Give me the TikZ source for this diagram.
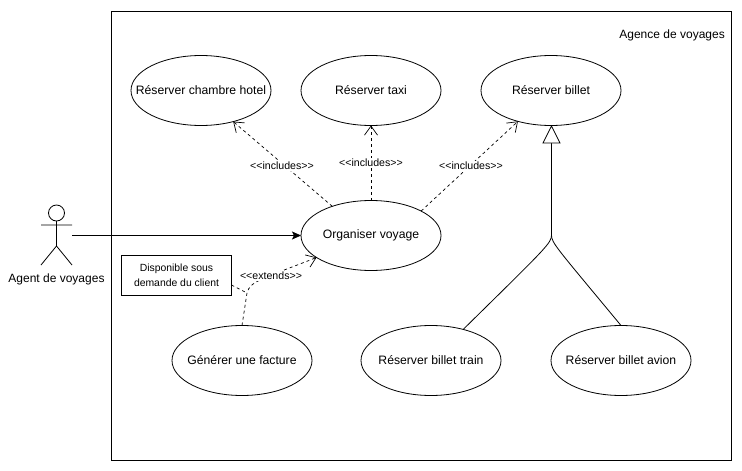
\documentclass[tikz,border=0pt]{standalone}
\usepackage{fontspec}
\setmainfont{Liberation Sans}
\usetikzlibrary{shapes.geometric,arrows.meta}
\newcommand{\ctext}[1]{\makebox[0pt][c]{#1}}
\newcommand{\stereo}[1]{<{}<#1>{}>}
\tikzset{
  uc/.style={draw,ellipse,minimum width=140pt,minimum height=70pt,inner sep=0pt,outer sep=0pt,font=\fontsize{12.2}{14}\selectfont,line width=0.8pt},
  lbl/.style={fill=white,inner sep=1pt,font=\fontsize{10.6}{12}\selectfont},
  dep/.style={draw,dashed,dash pattern=on 3pt off 3pt,line width=0.7pt,-{Straight Barb[length=9pt,width=13pt,line width=0.7pt]}},
  gen/.style={line width=0.8pt},
  txt/.style={inner sep=0pt,font=\fontsize{12}{14}\selectfont}
}
\begin{document}
\begin{tikzpicture}[x=1pt,y=-1pt]
\useasboundingbox (0,0) rectangle (742,471);
\fill[white] (0,0) rectangle (742,471);
\node[draw,line width=0.8pt,minimum width=620pt,minimum height=449pt,inner sep=0pt,outer sep=0pt] (sys) at (421,235.5) {};
\node[txt,anchor=east] (systitle) at (725,35) {Agence de voyages};
\node[uc] (hotel) at (201,90.5) {\ctext{Réserver chambre hotel}};
\node[uc] (taxi) at (371,90.5) {\ctext{Réserver taxi}};
\node[uc] (billet) at (551,90.5) {\ctext{Réserver billet}};
\node[uc] (org) at (371,235.5) {\ctext{Organiser voyage}};
\node[uc] (fac) at (242,360.5) {\ctext{Générer une facture}};
\node[uc] (train) at (431,360.5) {\ctext{Réserver billet train}};
\node[uc] (avion) at (621,360.5) {\ctext{Réserver billet avion}};
\node[draw,line width=0.8pt,minimum width=110pt,minimum height=40pt,inner sep=0pt,outer sep=0pt,align=center,font=\fontsize{10.4}{15}\selectfont] (note) at (176.5,275) {Disponible sous\\demande du client};
% actor
\node[draw,circle,line width=0.8pt,minimum size=16pt,inner sep=0pt,outer sep=0pt] (head) at (56.5,213) {};
\coordinate (hip) at (56.5,246);
\coordinate (handL) at (41,225);
\coordinate (handR) at (72,225);
\coordinate (footL) at (41,265);
\coordinate (footR) at (72,265);
\coordinate (actorout) at (72,235.5);
\draw[line width=0.8pt] (head.south) -- (hip) (handL) -- (handR) (footL) -- (hip) -- (footR);
\node[txt] (actorlbl) at (56.5,279) {Agent de voyages};
% association
\draw[line width=0.8pt,-{Stealth[length=9pt,width=8pt,inset=2pt]}] (actorout) -- (org.west);
% includes
\draw[dep] (org.143.6) -- (hotel.-44);
\draw[dep] (org.north) -- (taxi.south);
\draw[dep] (org.26.6) -- (billet.223);
\node[lbl] (l1) at (282,166) {\stereo{includes}};
\node[lbl] (l2) at (371,163) {\stereo{includes}};
\node[lbl] (l3) at (471,166) {\stereo{includes}};
% extends
\coordinate (bend) at (247,293);
\draw[dep] (fac.north) -- (bend) .. controls (250,281) and (262,279) .. (org.202);
\draw[dashed,dash pattern=on 3pt off 3pt,line width=0.7pt] (note.east |- 0,285) -- (bend);
\node[lbl] (l4) at (271,276) {\stereo{extends}};
% generalization
\coordinate (gb) at (551.5,235);
\coordinate (gbase) at (551.5,143);
\draw[gen] (gbase) -- (gb);
\draw[gen] (gb) .. controls (551.5,243) and (547,247) .. (train.44);
\draw[gen] (gb) .. controls (551.5,243) and (556,247) .. (avion.north);
\draw[line width=0.8pt,fill=white,line join=miter] (551.5,126) -- (560,143) -- (543,143) -- cycle;
\end{tikzpicture}
\end{document}
